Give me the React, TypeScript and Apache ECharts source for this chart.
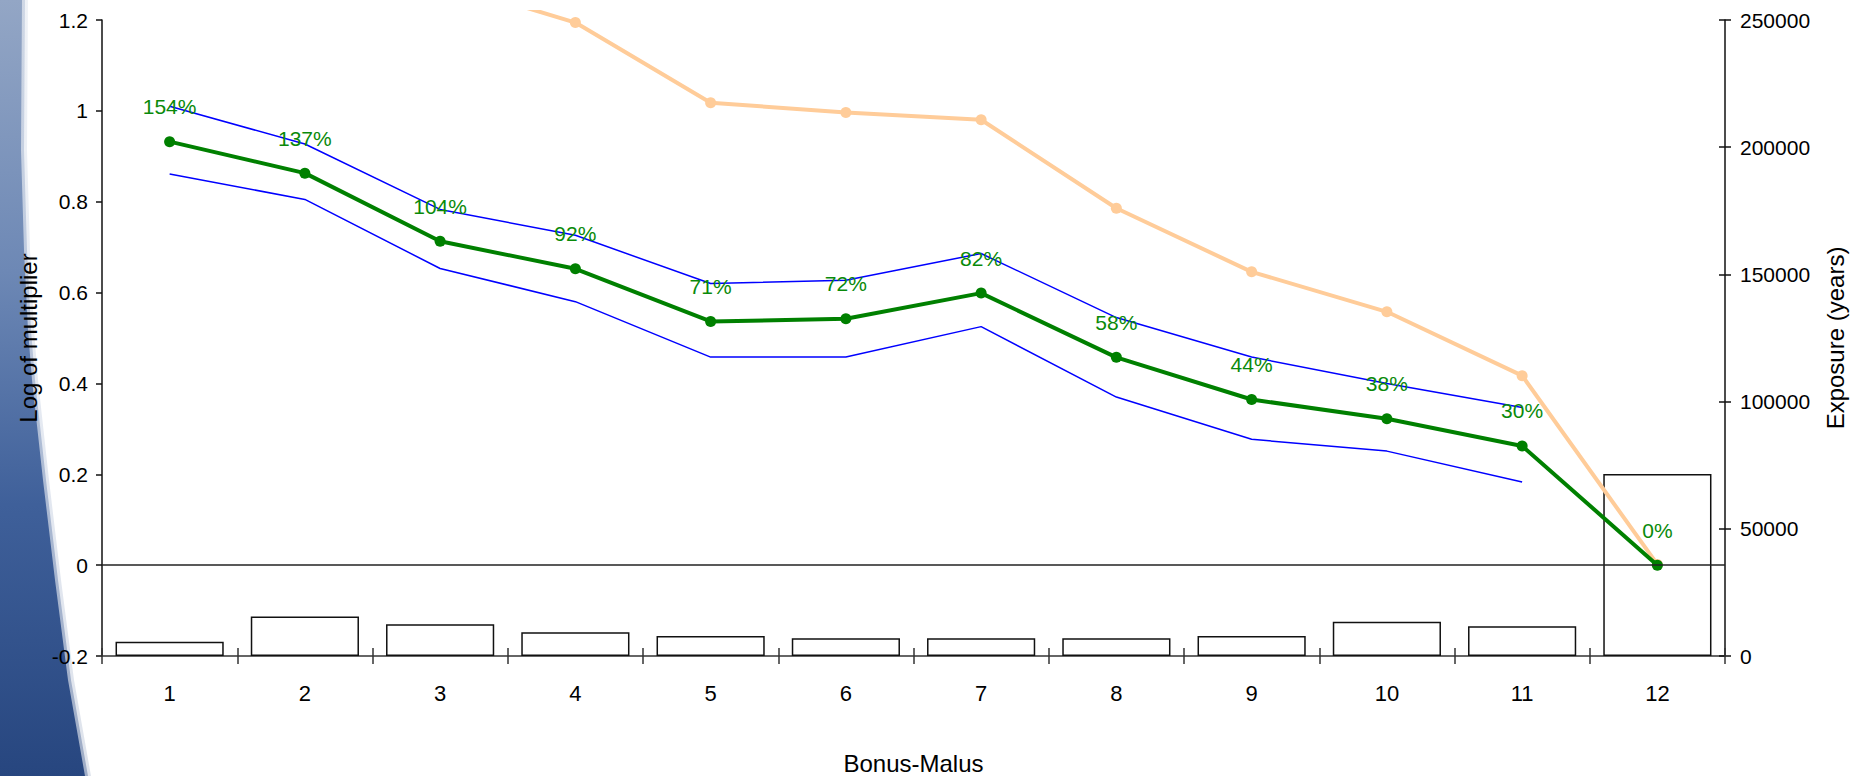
import React, { useEffect, useRef } from "react";
import * as echarts from "echarts";

// Bonus-Malus classes
const categories = ["1", "2", "3", "4", "5", "6", "7", "8", "9", "10", "11", "12"];
// Relative multiplier of each class (percent above the base class 12)
const multiplierPct = [154, 137, 104, 92, 71, 72, 82, 58, 44, 38, 30, 0];
// Confidence band around the log multiplier
const upperBand = [1.01, 0.927, 0.783, 0.726, 0.62, 0.627, 0.686, 0.545, 0.458, 0.4, 0.347, null];
const lowerBand = [0.861, 0.805, 0.653, 0.58, 0.458, 0.458, 0.525, 0.37, 0.277, 0.251, 0.183, null];
// Exposure per class (years)
const exposureBars = [5600, 15500, 12500, 9300, 7900, 7000, 7000, 7000, 7900, 13500, 11700, 71500];
// Exposure trend line (years)
const exposureLine = [292000, 280000, 265000, 249000, 217500, 213600, 210800, 176000, 151000, 135300, 110200, 36000];
// Axis ticks
const leftTicks = { min: -0.2, max: 1.2, interval: 0.2 };
const rightTicks = { min: 0, max: 250000, interval: 50000 };

const logMultiplier = multiplierPct.map((p) => Math.log(1 + p / 100));

const FONT = "'Liberation Sans', Arial, sans-serif";
const W = 1863;
const H = 776;

export default function App() {
  const ref = useRef<HTMLDivElement>(null);

  useEffect(() => {
    document.body.style.margin = "0";
    document.documentElement.style.overflow = "hidden";
    document.body.style.overflow = "hidden";
    if (!ref.current) return;
    const chart = echarts.init(ref.current, undefined, { renderer: "svg" });

    const plotLeft = 102;
    const plotRight = 1725;
    const plotTop = 20;
    const plotBottom = 656;
    const pxPerUnit = (plotBottom - plotTop) / (rightTicks.max - rightTicks.min);
    const clipTop = 12;
    const clipMax = rightTicks.max + (plotTop - clipTop) / pxPerUnit;

    // Decorative slide edge on the left
    const edge: number[][] = [
      [0, 0], [22, 0], [21, 150], [24, 250], [28, 330], [32, 380],
      [43, 480], [55, 580], [68, 680], [85, 776], [0, 776],
    ];
    const blueGrad = new echarts.graphic.LinearGradient(0, 0, 0, 1, [
      { offset: 0, color: "#93a6c5" },
      { offset: 0.35, color: "#6d88b5" },
      { offset: 0.65, color: "#3f609a" },
      { offset: 1, color: "#27467f" },
    ]);
    const shifted = (dx: number) => edge.map(([x, y], i) => (i === 0 || i === edge.length - 1 ? [x, y] : [x + dx, y]));

    const option: any = {
      animation: false,
      backgroundColor: "#ffffff",
      textStyle: { fontFamily: FONT },
      graphic: [
        { type: "polygon", z: -10, silent: true, shape: { points: shifted(6) }, style: { fill: blueGrad, opacity: 0.15 } },
        { type: "polygon", z: -10, silent: true, shape: { points: shifted(3) }, style: { fill: blueGrad, opacity: 0.35 } },
        { type: "polygon", z: -10, silent: true, shape: { points: edge }, style: { fill: blueGrad } },
      ],
      grid: [
        {
          left: plotLeft, right: W - plotRight, top: plotTop, bottom: H - plotBottom,
          containLabel: false, outerBoundsMode: "none",
        },
        {
          left: plotLeft, right: W - plotRight, top: clipTop, bottom: H - plotBottom,
          containLabel: false, outerBoundsMode: "none",
        },
      ],
      xAxis: [
        {
          type: "category",
          gridIndex: 0,
          data: categories,
          boundaryGap: true,
          axisLine: { show: true, onZero: false, lineStyle: { color: "#333", width: 1.5 } },
          axisTick: { show: true, interval: 0, length: 8, lineStyle: { color: "#333", width: 1.5 } },
          axisLabel: { color: "#000", fontSize: 22, fontFamily: FONT, margin: 26, interval: 0 },
          splitLine: { show: false },
          name: "Bonus-Malus",
          nameLocation: "middle",
          nameGap: 95,
          nameTextStyle: { color: "#000", fontSize: 24, fontFamily: FONT },
        },
        {
          type: "category",
          gridIndex: 0,
          data: categories,
          boundaryGap: true,
          position: "bottom",
          axisLine: { show: false, onZero: false },
          axisTick: { show: true, inside: true, interval: 0, length: 8, lineStyle: { color: "#333", width: 1.5 } },
          axisLabel: { show: false },
          splitLine: { show: false },
        },
        {
          type: "category",
          gridIndex: 1,
          data: categories,
          boundaryGap: true,
          show: false,
        },
      ],
      yAxis: [
        {
          type: "value",
          gridIndex: 0,
          position: "left",
          min: leftTicks.min,
          max: leftTicks.max,
          interval: leftTicks.interval,
          axisLine: { show: true, onZero: false, lineStyle: { color: "#111", width: 1.5 } },
          axisTick: { show: true, length: 6, lineStyle: { color: "#111", width: 1.5 } },
          axisLabel: { color: "#000", fontSize: 21, fontFamily: FONT, margin: 14 },
          splitLine: { show: false },
          name: "Log of multiplier",
          nameLocation: "middle",
          nameRotate: 90,
          nameGap: 62,
          nameTextStyle: { color: "#000", fontSize: 24, fontFamily: FONT },
        },
        {
          type: "value",
          gridIndex: 0,
          position: "right",
          min: rightTicks.min,
          max: rightTicks.max,
          interval: rightTicks.interval,
          axisLine: { show: true, onZero: false, lineStyle: { color: "#111", width: 1.5 } },
          axisTick: { show: true, length: 6, lineStyle: { color: "#111", width: 1.5 } },
          axisLabel: { color: "#000", fontSize: 21, fontFamily: FONT, margin: 15, formatter: (v: number) => String(v) },
          splitLine: { show: false },
          name: "Exposure (years)",
          nameLocation: "middle",
          nameRotate: 90,
          nameGap: 98,
          nameTextStyle: { color: "#000", fontSize: 24, fontFamily: FONT },
        },
        {
          type: "value",
          gridIndex: 0,
          position: "right",
          min: rightTicks.min,
          max: rightTicks.max,
          interval: rightTicks.interval,
          axisLine: { show: false },
          axisTick: { show: true, inside: true, length: 6, lineStyle: { color: "#111", width: 1.5 } },
          axisLabel: { show: false },
          splitLine: { show: false },
        },
        {
          type: "value",
          gridIndex: 1,
          min: rightTicks.min,
          max: clipMax,
          show: false,
          splitLine: { show: false },
        },
      ],
      series: [
        {
          name: "Exposure",
          type: "bar",
          xAxisIndex: 0,
          yAxisIndex: 1,
          data: exposureBars,
          barCategoryGap: "20%",
          itemStyle: { color: "#ffffff", borderColor: "#111", borderWidth: 1.5 },
          z: 1,
          silent: true,
        },
        {
          name: "Exposure line",
          type: "line",
          xAxisIndex: 2,
          yAxisIndex: 3,
          data: exposureLine,
          clip: true,
          symbol: "circle",
          symbolSize: 11,
          lineStyle: { color: "#ffcc99", width: 4 },
          itemStyle: { color: "#ffcc99" },
          z: 2,
          silent: true,
        },
        {
          name: "Upper",
          type: "line",
          xAxisIndex: 0,
          yAxisIndex: 0,
          data: upperBand,
          symbol: "none",
          lineStyle: { color: "#0000ff", width: 1.5 },
          z: 3,
          silent: true,
        },
        {
          name: "Lower",
          type: "line",
          xAxisIndex: 0,
          yAxisIndex: 0,
          data: lowerBand,
          symbol: "none",
          lineStyle: { color: "#0000ff", width: 1.5 },
          z: 3,
          silent: true,
        },
        {
          name: "Log of multiplier",
          type: "line",
          xAxisIndex: 0,
          yAxisIndex: 0,
          data: logMultiplier,
          symbol: "circle",
          symbolSize: 11,
          lineStyle: { color: "#008000", width: 4 },
          itemStyle: { color: "#008000" },
          label: {
            show: true,
            position: "top",
            distance: 19,
            color: "#0a8a0a",
            fontSize: 21,
            fontFamily: FONT,
            formatter: (p: any) => `${multiplierPct[p.dataIndex]}%`,
          },
          markLine: {
            silent: true,
            symbol: ["none", "none"],
            label: { show: false },
            lineStyle: { color: "#222", width: 1.5, type: "solid" },
            data: [{ yAxis: 0 }],
          },
          z: 4,
          silent: true,
        },
      ],
    };

    chart.setOption(option);
    return () => chart.dispose();
  }, []);

  return (
    <div
      ref={ref}
      style={{ position: "fixed", left: 0, top: 0, width: W, height: H, overflow: "hidden" }}
    />
  );
}
